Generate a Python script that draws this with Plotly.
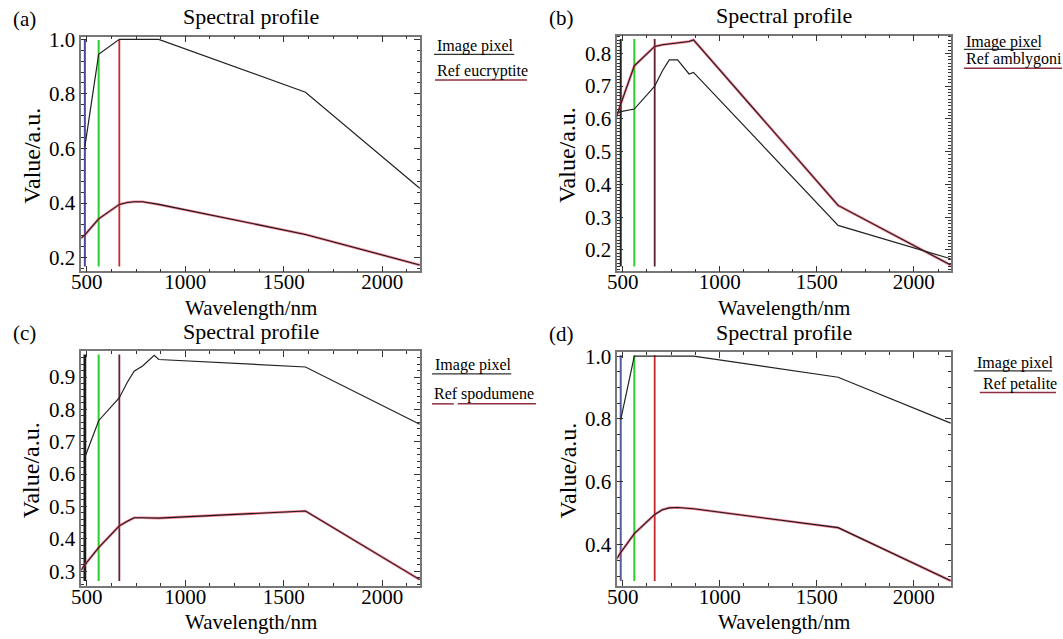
import plotly.graph_objects as go
from plotly.subplots import make_subplots

W, H = 1063, 639

# Sentinel-2 band centres (nm)
bands = [443, 490, 560, 665, 705, 740, 783, 842, 865, 1610, 2190]
rgb_bands = [490, 560, 665]

pixel_a = [None, 0.607, 0.945, 1.0, 1.0, 1.0, 1.0, 1.0, 1.0, 0.806, 0.454]
ref_a = [0.255, 0.283, 0.342, 0.395, 0.402, 0.405, 0.405, 0.398, 0.395, 0.285, 0.173]
pixel_b = [0.615, 0.622, 0.630, 0.700, 0.747, 0.780, 0.780, 0.737, 0.742, 0.275, 0.173]
ref_b = [0.56, 0.645, 0.762, 0.821, 0.826, 0.828, 0.831, 0.836, 0.841, 0.336, 0.154]
pixel_c = [None, 0.652, 0.765, 0.836, 0.883, 0.918, 0.934, 0.967, 0.954, 0.931, 0.754]
ref_c = [0.28, 0.32, 0.373, 0.440, 0.454, 0.465, 0.465, 0.463, 0.464, 0.486, 0.274]
pixel_d = [None, 0.798, 1.0, 1.0, 1.0, 1.0, 1.0, 1.0, 1.0, 0.933, 0.787]
ref_d = [0.33, 0.375, 0.435, 0.496, 0.511, 0.517, 0.518, 0.516, 0.514, 0.454, 0.285]

panel_labels = ["(a)", "(b)", "(c)", "(d)"]
ref_names = ["Ref eucryptite", "Ref amblygoni", "Ref spodumene", "Ref petalite"]
title_text = "Spectral profile"
x_title = "Wavelength/nm"
y_title = "Value/a.u."
pixel_name = "Image pixel"

x_range = [472, 2192]
y_ranges = [[0.15, 1.01], [0.135, 0.854], [0.255, 0.98], [0.269, 1.013]]
y_dticks = [0.2, 0.1, 0.1, 0.2]
y_minor = [0.04, 0.01, 0.02, 0.05]

pixels = [pixel_a, pixel_b, pixel_c, pixel_d]
refs = [ref_a, ref_b, ref_c, ref_d]

# panel boxes in pixels: (left, right, top, bottom)
boxes = [(72, 414, 28, 266), (613, 950, 27, 266), (72, 414, 347, 585), (613, 950, 348, 585)]
line_colors = [
    ["#4a4a9e", "#2ccf2c", "#c42a2a"],
    ["#222222", "#2ccf2c", "#5e1e30"],
    ["#1a1a1a", "#2ccf2c", "#6a2232"],
    ["#5a5a9c", "#2ccf2c", "#c42a2a"],
]
line_widths = [[2, 2, 1.8], [2, 2, 1.8], [2.8, 2, 1.8], [2, 2, 1.8]]

FONT = "Liberation Serif, Times New Roman, serif"


def px(x):
    return x / W


def py(y):
    return 1 - y / H


fig = make_subplots(rows=2, cols=2)

ann = []
shapes = []
for i in range(4):
    r, c = i // 2 + 1, i % 2 + 1
    L, R, T, B = boxes[i]
    xa = "xaxis" if i == 0 else f"xaxis{i+1}"
    ya = "yaxis" if i == 0 else f"yaxis{i+1}"
    xref = "x" if i == 0 else f"x{i+1}"
    yref = "y" if i == 0 else f"y{i+1}"

    fig.add_trace(go.Scatter(x=bands, y=refs[i], mode="lines",
                             line=dict(color="rgba(240,60,90,0.65)", width=2.6),
                             showlegend=False, hoverinfo="skip"), row=r, col=c)
    fig.add_trace(go.Scatter(x=bands, y=refs[i], mode="lines",
                             line=dict(color="#1a1a1a", width=1.1),
                             name=ref_names[i], showlegend=False), row=r, col=c)
    fig.add_trace(go.Scatter(x=bands, y=pixels[i], mode="lines",
                             line=dict(color="#222222", width=1.2),
                             name=pixel_name, showlegend=False), row=r, col=c)

    axis_common = dict(showgrid=False, zeroline=False, showline=True,
                       linecolor="#777777", linewidth=1.5, mirror="allticks",
                       ticks="inside", ticklen=6, tickwidth=1, tickcolor="#333333",
                       tickfont=dict(family=FONT, size=21, color="black"))
    fig.layout[xa].update(domain=[px(L), px(R)], range=x_range, dtick=500, tick0=0,
                          ticklabelstandoff=-9,
                          minor=dict(dtick=125, ticks="inside", ticklen=3, tickcolor="#333333"),
                          **axis_common)
    fig.layout[ya].update(domain=[py(B), py(T)], range=y_ranges[i], dtick=y_dticks[i], tick0=0,
                          tickformat=".1f",
                          minor=dict(dtick=y_minor[i], ticks="inside", ticklen=3, tickcolor="#333333"),
                          **axis_common)

    for b, col, lw in zip(rgb_bands, line_colors[i], line_widths[i]):
        shapes.append(dict(type="line", xref=xref, yref=f"{yref} domain",
                           x0=b, x1=b, y0=0.02, y1=0.986, layer="below",
                           line=dict(color=col, width=lw)))

    cx = (L + R) / 2
    ann.append(dict(text=title_text, x=px(cx), y=py(T - 20), xref="paper", yref="paper",
                    showarrow=False, xanchor="center", yanchor="middle",
                    font=dict(family=FONT, size=22, color="black")))
    ann.append(dict(text=x_title, x=px(cx), y=py(B + 37), xref="paper", yref="paper",
                    showarrow=False, xanchor="center", yanchor="middle",
                    font=dict(family=FONT, size=21, color="black")))
    ann.append(dict(text=y_title, x=px(L - 50), y=py((T + B) / 2 + 2), xref="paper", yref="paper",
                    showarrow=False, xanchor="center", yanchor="middle", textangle=-90,
                    font=dict(family=FONT, size=24, color="black")))
    ann.append(dict(text=panel_labels[i], x=px(L - 71), y=py(T - 18), xref="paper", yref="paper",
                    showarrow=False, xanchor="left", yanchor="middle",
                    font=dict(family=FONT, size=21, color="black")))

# legends (text + underline)
leg = [
    dict(x=429, y1=38, u1=46, l1=(428, 509), y2=63, u2=72, x2=429, l2=[(429, 522)]),
    dict(x=963, y1=33, u1=41, l1=(963, 1040), y2=51, u2=60, x2=963, l2=[(963, 1062)]),
    dict(x=427, y1=361, u1=370, l1=(426, 506), y2=391, u2=400.5, x2=426, l2=[(426, 448), (452, 531)]),
    dict(x=974, y1=359, u1=367, l1=(973, 1052), y2=380, u2=389, x2=980, l2=[(979, 1056)]),
]
for i, g in enumerate(leg):
    ann.append(dict(text=pixel_name, x=px(g["x"]), y=py(g["y1"]), xref="paper", yref="paper",
                    showarrow=False, xanchor="left", yanchor="middle",
                    font=dict(family=FONT, size=16, color="black")))
    ann.append(dict(text=ref_names[i], x=px(g["x2"]), y=py(g["y2"]), xref="paper", yref="paper",
                    showarrow=False, xanchor="left", yanchor="middle",
                    font=dict(family=FONT, size=16, color="black")))
    shapes.append(dict(type="line", xref="paper", yref="paper",
                       x0=px(g["l1"][0]), x1=px(g["l1"][1]), y0=py(g["u1"]), y1=py(g["u1"]),
                       line=dict(color="#333333", width=1.2)))
    for a0, a1 in g["l2"]:
        shapes.append(dict(type="line", xref="paper", yref="paper",
                           x0=px(a0), x1=px(a1), y0=py(g["u2"]), y1=py(g["u2"]),
                           line=dict(color="#8e3040", width=1.5)))

fig.update_layout(width=W, height=H, margin=dict(l=0, r=0, t=0, b=0),
                  paper_bgcolor="white", plot_bgcolor="white",
                  annotations=ann, shapes=shapes, showlegend=False)

fig.write_html("out.html", config={"displayModeBar": False},
               post_script="document.body.style.margin='0';")
